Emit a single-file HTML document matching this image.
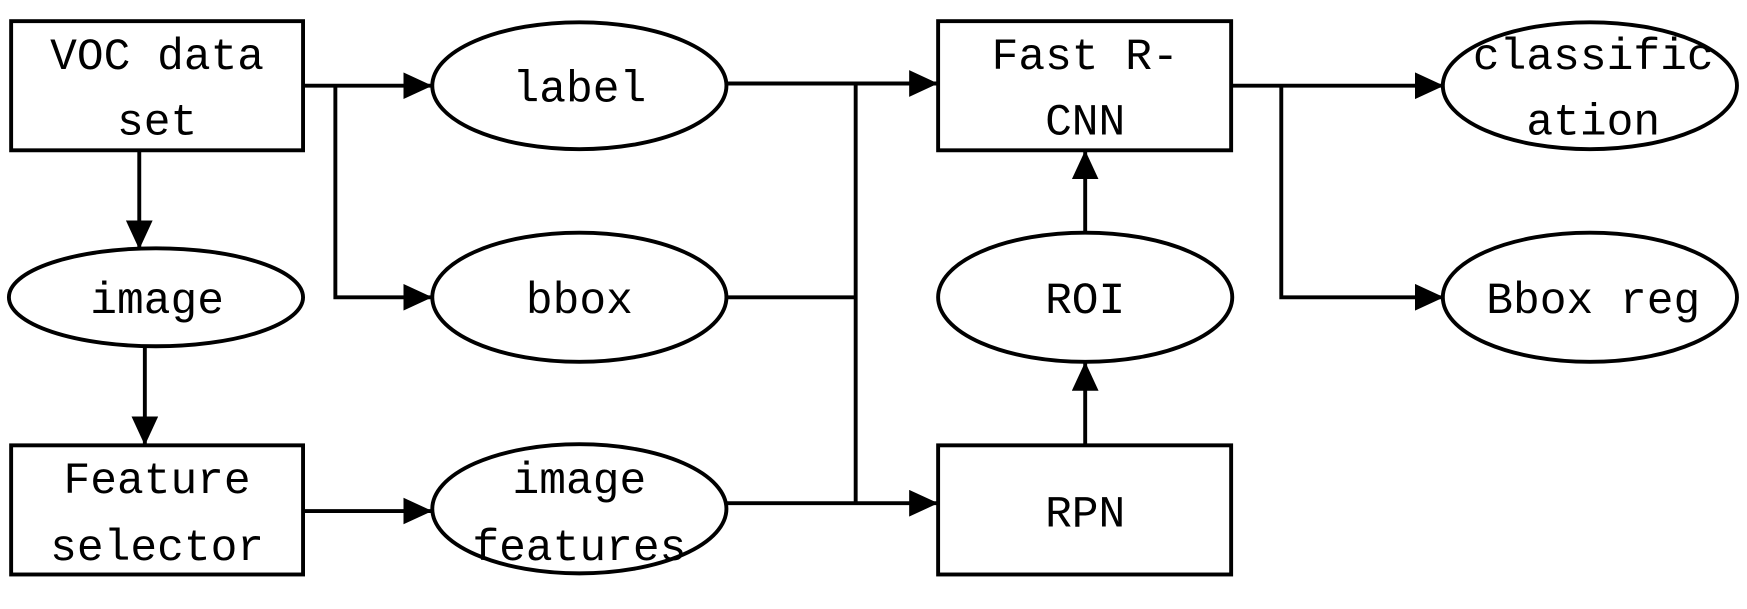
<!DOCTYPE html>
<html><head><style>
html,body{margin:0;padding:0;background:#fff;}
svg{display:block;}
text{font-family:"Liberation Mono","Noto Sans CJK SC",monospace;font-size:40px;fill:#000;text-anchor:middle;}
</style></head><body>
<svg width="1747" height="609" viewBox="0 0 1568 547" preserveAspectRatio="none" xmlns="http://www.w3.org/2000/svg">
<defs>
<marker id="b" viewBox="0 0 26 24" refX="26" refY="12" markerWidth="26" markerHeight="24" orient="auto" markerUnits="userSpaceOnUse"><path d="M0,0 L26,12 L0,24 z" fill="#000"/></marker></defs>
<g fill="none" stroke="#000" stroke-width="3.5">
<rect x="10" y="19" width="262" height="116"/>
<rect x="842" y="19" width="263" height="116"/>
<rect x="10" y="400" width="262" height="116"/>
<rect x="842" y="400" width="263" height="116"/>
<ellipse cx="520" cy="77" rx="132" ry="57"/>
<ellipse cx="1427" cy="77" rx="132" ry="57"/>
<ellipse cx="140" cy="267" rx="132" ry="44"/>
<ellipse cx="520" cy="267" rx="132" ry="58"/>
<ellipse cx="974" cy="267" rx="132" ry="58"/>
<ellipse cx="1427" cy="267" rx="132" ry="58"/>
<ellipse cx="520" cy="457" rx="132" ry="58"/>
<path d="M272,77 H388" marker-end="url(#b)"/>
<path d="M301,77 V267 H388" marker-end="url(#b)"/>
<path d="M125,135 V224" marker-end="url(#b)"/>
<path d="M130,311 V400" marker-end="url(#b)"/>
<path d="M272,459 H388" marker-end="url(#b)"/>
<path d="M652,75 H842" marker-end="url(#b)"/>
<path d="M652,267 H768"/>
<path d="M768,75 V452"/>
<path d="M652,452 H842" marker-end="url(#b)"/>
<path d="M974,400 V325" marker-end="url(#b)"/>
<path d="M974,209 V135" marker-end="url(#b)"/>
<path d="M1105,77 H1296" marker-end="url(#b)"/>
<path d="M1150,77 V267 H1296" marker-end="url(#b)"/>
</g>
<text x="141" y="62">VOC data</text>
<text x="141" y="121">set</text>
<text x="520" y="91">label</text>
<text x="974" y="62">Fast R-</text>
<text x="974" y="121">CNN</text>
<text x="1430" y="62">classific</text>
<text x="1430" y="121">ation</text>
<text x="141" y="281">image</text>
<text x="520" y="281">bbox</text>
<text x="974" y="281">ROI</text>
<text x="1430" y="281">Bbox reg</text>
<text x="141" y="443">Feature</text>
<text x="141" y="503">selector</text>
<text x="520" y="443">image</text>
<text x="520" y="503">features</text>
<text x="974" y="473">RPN</text>
</svg>
</body></html>
